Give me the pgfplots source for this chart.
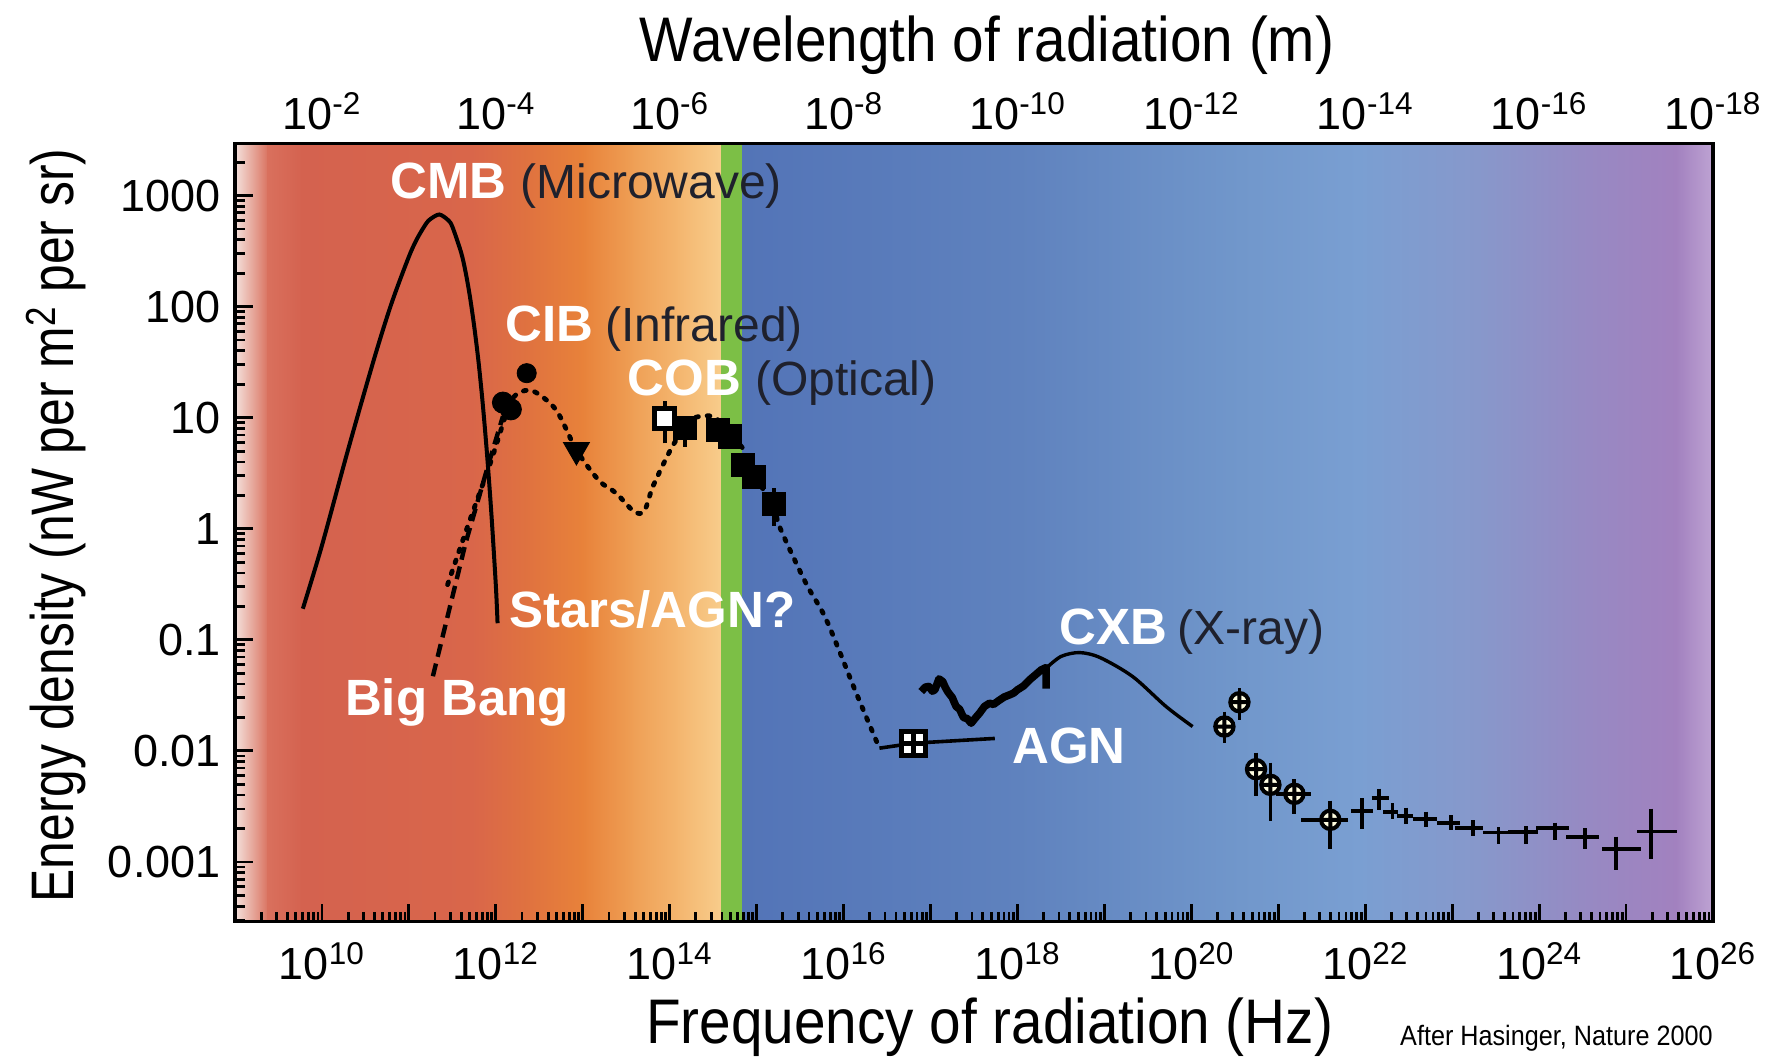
\documentclass[border=0pt]{standalone}
\usepackage{fontspec}
\setmainfont{Liberation Sans}
\newfontfamily\condfont{Liberation Sans}[FakeStretch=0.9]
\newfontfamily\ycondfont{Liberation Sans}[FakeStretch=0.83]
\usepackage{pgfplots}
\pgfplotsset{compat=1.18}

\definecolor{txtdark}{HTML}{1F212D}
\definecolor{g0}{HTML}{F4E1DC}
\definecolor{g1}{HTML}{D9705D}
\definecolor{g2}{HTML}{D4624F}
\definecolor{g3}{HTML}{D9664A}
\definecolor{g4}{HTML}{E0733F}
\definecolor{g5}{HTML}{E8823A}
\definecolor{g6}{HTML}{EFA056}
\definecolor{g7}{HTML}{F4B66F}
\definecolor{g8}{HTML}{F8CD8C}
\definecolor{vis}{HTML}{7CBF46}
\definecolor{b0}{HTML}{5374B7}
\definecolor{b1}{HTML}{5F82BE}
\definecolor{b2}{HTML}{7197CB}
\definecolor{b3}{HTML}{7A9FD2}
\definecolor{b4}{HTML}{8798CB}
\definecolor{b5}{HTML}{968AC3}
\definecolor{b6}{HTML}{A281BF}
\definecolor{b7}{HTML}{BEA3D3}

% one shaded strip of the background, in rel axis cs
\newcommand{\band}[4]{\shade[left color=#3,right color=#4] (rel axis cs:#1,0) rectangle (rel axis cs:#2,1);}
\newcommand{\tp}[1]{10\textsuperscript{#1}}
\newcommand{\wb}[1]{{\fontsize{25.5}{27}\selectfont\bfseries\color{white}#1}}
\newcommand{\dk}[1]{{\fontsize{24}{27}\selectfont\color{txtdark}#1}}
% inner ticks drawn by hand: #1 position, #2 length
\newcommand{\xtk}[2]{\edef\tmp{\noexpand\draw[black,line width=1.4pt] (axis cs:#1,2.9e-4) -- ++(0pt,#2);}\tmp}
\newcommand{\ytk}[2]{\edef\tmp{\noexpand\draw[black,line width=1.4pt] (axis cs:1e9,#1) -- ++(#2,0pt);}\tmp}

\tikzset{dots/.style={black, line width=2.4pt, line cap=round, dash pattern=on 1.4pt off 4.4pt}}

\begin{document}
\begin{tikzpicture}
\begin{axis}[
    name=main,
    scale only axis, width=739pt, height=389pt,
    xmode=log, ymode=log,
    xmin=1e9, xmax=1e26, ymin=2.9e-4, ymax=2940,
    axis on top,
    axis line style={line width=1.8pt},
    xtickten={10,...,26},
    xticklabels={\tp{10},{},\tp{12},{},\tp{14},{},\tp{16},{},\tp{18},{},\tp{20},{},\tp{22},{},\tp{24},{},\tp{26}},
    ytickten={-3,...,3},
    yticklabels={0.001,0.01,0.1,1,10,100,1000},
    xtick pos=left, ytick pos=left,
    tick align=inside,
    major tick length=8.5pt,
    every tick/.style={black, line width=1.4pt},
    tick label style={font=\fontsize{22.5}{24}\selectfont, inner sep=0pt},
    xticklabel style={anchor=base, yshift=-28.8pt},
    yticklabel style={anchor=east, xshift=-7pt},
    unbounded coords=jump,
]
% background spectrum
\band{0}{0.023}{g0}{g1}
\band{0.022}{0.046}{g1}{g2}
\band{0.045}{0.161}{g2}{g3}
\band{0.16}{0.201}{g3}{g4}
\band{0.2}{0.236}{g4}{g5}
\band{0.235}{0.271}{g5}{g6}
\band{0.27}{0.301}{g6}{g7}
\band{0.3}{0.33}{g7}{g8}
\fill[vis] (rel axis cs:0.329,0) rectangle (rel axis cs:0.344,1);
\band{0.3435}{0.531}{b0}{b1}
\band{0.53}{0.681}{b1}{b2}
\band{0.68}{0.761}{b2}{b3}
\band{0.76}{0.841}{b3}{b4}
\band{0.84}{0.911}{b4}{b5}
\band{0.91}{0.976}{b5}{b6}
\band{0.975}{1}{b6}{b7}

% ticks: decades long, 2..9 short
\foreach \e in {10,...,25}{\xtk{1e\e}{9pt}}
\foreach \e in {-3,...,3}{\ytk{1e\e}{9pt}}
\foreach \e in {9,...,25}{\foreach \m in {2,...,9}{\xtk{\m e\e}{5pt}}}
\foreach \e in {-3,...,2}{\foreach \m in {2,...,9}{\ytk{\m e\e}{5pt}}}
\foreach \m in {3,...,9}{\ytk{\m e-4}{5pt}}
\ytk{2e3}{5pt}

% CMB
\addplot[black, line width=2pt, smooth] coordinates {
(6.03e9,0.1905) (1e10,0.708) (1.995e10,5.13) (3.981e10,33.9) (6.31e10,107)
(1e11,282) (1.259e11,417) (1.585e11,562) (1.778e11,617) (2.239e11,676)
(2.818e11,603) (3.162e11,525) (3.981e11,309) (4.467e11,209) (5.012e11,126)
(5.623e11,67.6) (6.31e11,32.4) (7.079e11,13.2) (7.943e11,4.57) (8.913e11,1.32)
(1e12,0.309) (1.047e12,0.141)};

% Big Bang (dashed)
\addplot[black, line width=2.2pt, dash pattern=on 6.5pt off 3.5pt] coordinates {
(1.888e11,0.047) (4.498e11,0.748) (8.3e11,3.9) (1.208e12,10.33)};

% Stars/AGN (dotted)
\addplot[dots, smooth] coordinates {
(2.786e11,0.314) (4.92e11,1.14) (8.69e11,3.95) (1.282e12,10.3)};

% CIB / COB dotted curve
\addplot[dots, smooth] coordinates {
(1.321e12,12.76) (1.782e12,16.52) (2.673e12,17.42) (4.932e12,11.75) (8.453e12,5.117)
(1.538e13,2.716) (2.410e13,2.099) (3.890e13,1.429) (5.093e13,1.442) (6.397e13,2.399)
(9.528e13,4.624) (1.189e14,6.310) (1.690e14,9.397) (2.404e14,10.38) (3.436e14,9.886)
(4.819e14,6.776) (6.934e14,5.309) (9.311e14,2.985) (1.563e15,1.675) (1.832e15,1.045)
(3.690e15,0.3228) (6.324e15,0.1517) (1.400e16,0.03304) (2.582e16,0.01057)};

% AGN line
\addplot[black, line width=1.8pt] coordinates {
(2.582e16,0.01057) (6.339e16,0.01172) (5.483e17,0.01294)};

% CXB measured (jagged)
\addplot[black, line width=3.8pt, line join=round] coordinates {
(7.816e16,0.0342) (8.7e16,0.0375) (9.55e16,0.03802) (1.05e17,0.0345) (1.122e17,0.03548)
(1.25e17,0.0445) (1.38e17,0.04207) (1.48e17,0.0372) (1.585e17,0.03388)
(1.778e17,0.0302) (1.88e17,0.0272) (1.972e17,0.02506) (2.15e17,0.0238) (2.399e17,0.01995)
(2.65e17,0.0195) (2.931e17,0.01774) (3.311e17,0.01995)
(3.656e17,0.02183) (4.169e17,0.02512) (4.764e17,0.02685) (5.3e17,0.0262) (6.026e17,0.02818)
(7.0e17,0.0305) (8.091e17,0.03192) (9.0e17,0.0331)
(1e18,0.03548) (1.18e18,0.0385) (1.374e18,0.04355) (1.585e18,0.04786) (1.871e18,0.05358) (2.138e18,0.05623)
(2.138e18,0.03631)};

% CXB model
\addplot[black, line width=1.7pt, smooth] coordinates {
(2.133e18,0.05546) (3.162e18,0.07079) (5.164e18,0.07674) (8.913e18,0.06918)
(2.113e19,0.04667) (5.117e19,0.02506) (1.033e20,0.01656)};

% CIB points
\addplot[only marks, mark=*, mark size=5.3pt, black] coordinates {
(1.208e12,13.68) (1.489e12,11.89)};
\addplot[only marks, mark=*, mark size=4.8pt, black] coordinates {
(2.265e12,25.18)};
\addplot[only marks, mark=triangle*, mark size=7.5pt, mark options={rotate=180}, black] coordinates {
(8.453e12,5.117)};

% COB points
\addplot[only marks, mark=square*, mark size=5.8pt, black] coordinates {
(1.486e14,8.035) (3.573e14,7.798) (4.887e14,6.776) (6.934e14,3.767) (9.226e14,2.944) (1.563e15,1.675)};
\addplot[only marks, mark=square*, mark size=5pt, mark options={fill=white, draw=black, line width=2.2pt}] coordinates {
(8.730e13,9.863)};
\addplot[black, line width=2pt] coordinates {
(8.730e13,5.888) (8.730e13,14.03) (nan,nan)
(1.486e14,5.483) (1.486e14,10.33) (nan,nan)
(1.563e15,1.062) (1.563e15,2.307)};

% AGN point
\addplot[only marks, mark=square*, mark size=6pt, mark options={fill=white, draw=black, line width=2.6pt}] coordinates {
(6.339e16,0.01172)};
\addplot[only marks, mark=+, mark size=6pt, mark options={line width=2.6pt, black}] coordinates {
(6.339e16,0.01172)};

% gamma-ray points: vertical error bars
\addplot[black, line width=1.9pt] coordinates {
(2.399e20,0.02259) (2.399e20,0.01172) (nan,nan)
(3.573e20,0.03664) (3.573e20,0.01901) (nan,nan)
(5.546e20,0.009661) (5.546e20,0.003936) (nan,nan)
(8.110e20,0.007834) (8.110e20,0.002360) (nan,nan)
(1.531e21,0.005559) (1.531e21,0.002710) (nan,nan)
(3.963e21,0.003565) (3.963e21,0.001300) (nan,nan)
(9.162e21,0.003750) (9.162e21,0.001972) (nan,nan)
(1.449e22,0.004571) (1.449e22,0.002911) (nan,nan)
(2.061e22,0.003381) (2.061e22,0.002427) (nan,nan)
(2.938e22,0.003090) (2.938e22,0.002188) (nan,nan)
(4.989e22,0.002838) (4.989e22,0.002051) (nan,nan)
(9.661e22,0.002630) (9.661e22,0.001950) (nan,nan)
(1.718e23,0.002377) (1.718e23,0.001706) (nan,nan)
(3.412e23,0.002056) (3.412e23,0.001455) (nan,nan)
(7.063e23,0.002089) (7.063e23,0.001445) (nan,nan)
(1.535e24,0.002259) (1.535e24,0.001581) (nan,nan)
(3.388e24,0.002004) (3.388e24,0.001294) (nan,nan)
(7.638e24,0.001690) (7.638e24,0.0008531) (nan,nan)
(1.932e25,0.003020) (1.932e25,0.001072)};
% horizontal error bars
\addplot[black, line width=1.9pt] coordinates {
(9.397e20,0.004102) (2.382e21,0.004102) (nan,nan)
(1.828e21,0.002393) (6.266e21,0.002393) (nan,nan)
(6.839e21,0.002877) (1.239e22,0.002877) (nan,nan)
(1.186e22,0.003750) (1.858e22,0.003750) (nan,nan)
(1.611e22,0.002838) (2.355e22,0.002838) (nan,nan)
(2.344e22,0.002600) (3.548e22,0.002600) (nan,nan)
(3.548e22,0.002427) (6.607e22,0.002427) (nan,nan)
(6.607e22,0.002259) (1.219e23,0.002259) (nan,nan)
(1.067e23,0.002014) (2.259e23,0.002014) (nan,nan)
(2.259e23,0.001841) (4.775e23,0.001841) (nan,nan)
(4.375e23,0.001854) (9.683e23,0.001854) (nan,nan)
(9.226e23,0.002014) (2.234e24,0.002014) (nan,nan)
(2.046e24,0.001690) (4.819e24,0.001690) (nan,nan)
(5.346e24,0.001300) (1.472e25,0.001300) (nan,nan)
(1.349e25,0.001879) (3.882e25,0.001879)};
\addplot[only marks, mark=oplus*, mark size=4.6pt, mark options={fill=white!88!yellow, draw=black, line width=2pt}] coordinates {
(2.399e20,0.01656) (3.573e20,0.02742) (5.546e20,0.006839) (8.110e20,0.004943)
(1.531e21,0.004102) (3.963e21,0.002393)};

% annotations
\node[anchor=base west, inner sep=0pt] at (rel axis cs:0.1048,0.9291) {\wb{CMB}\hspace{7pt}\dk{(Microwave)}};
\node[anchor=base west, inner sep=0pt] at (rel axis cs:0.1829,0.7456) {\wb{CIB}\hspace{6pt}\dk{(Infrared)}};
\node[anchor=base west, inner sep=0pt] at (rel axis cs:0.2655,0.6759) {\wb{COB}\hspace{7pt}\dk{(Optical)}};
\node[anchor=base west, inner sep=0pt] at (rel axis cs:0.1852,0.3779) {\wb{Stars/AGN?}};
\node[anchor=base west, inner sep=0pt] at (rel axis cs:0.0742,0.2645) {\wb{Big Bang}};
\node[anchor=base west, inner sep=0pt] at (rel axis cs:0.5578,0.3561) {\wb{CXB}\hspace{5pt}\dk{(X-ray)}};
\node[anchor=base west, inner sep=0pt] at (rel axis cs:0.5256,0.2035) {\wb{AGN}};
\end{axis}

% wavelength scale on top
\begin{axis}[
    at={(main.south west)}, anchor=south west,
    scale only axis, width=739pt, height=389pt,
    xmode=log, xmin=1e9, xmax=1e26, ymin=0, ymax=1,
    hide y axis, axis x line*=top,
    x axis line style={draw=none},
    xtick style={draw=none},
    xtickten={10,12,...,26},
    xticklabels={\tp{-2},\tp{-4},\tp{-6},\tp{-8},\tp{-10},\tp{-12},\tp{-14},\tp{-16},\tp{-18}},
    major tick length=0pt, minor tick length=0pt,
    xticklabel style={font=\fontsize{22.5}{24}\selectfont, inner sep=0pt, anchor=base, yshift=7pt},
]
\end{axis}

\node[anchor=base, font=\condfont\fontsize{31.5}{34}\selectfont] at ([xshift=377.3pt,yshift=-61pt]main.south west) {Frequency of radiation (Hz)};
\node[anchor=base, font=\condfont\fontsize{31.5}{34}\selectfont] at ([xshift=376pt,yshift=40.8pt]main.north west) {Wavelength of radiation (m)};
\node[anchor=base, rotate=90, font=\ycondfont\fontsize{30}{34}\selectfont] at ([xshift=-80.8pt,yshift=198pt]main.south west) {Energy density (nW per m\textsuperscript{2} per sr)};
\node[anchor=base east, inner sep=0pt, font=\condfont\fontsize{14}{16}\selectfont] at ([yshift=-62pt]main.south east) {After Hasinger, Nature 2000};

\pgfresetboundingbox
\path[use as bounding box] ([xshift=-117.5pt,yshift=-67.5pt]main.south west) rectangle ([xshift=29.5pt,yshift=71.8pt]main.north east);
\end{tikzpicture}
\end{document}
